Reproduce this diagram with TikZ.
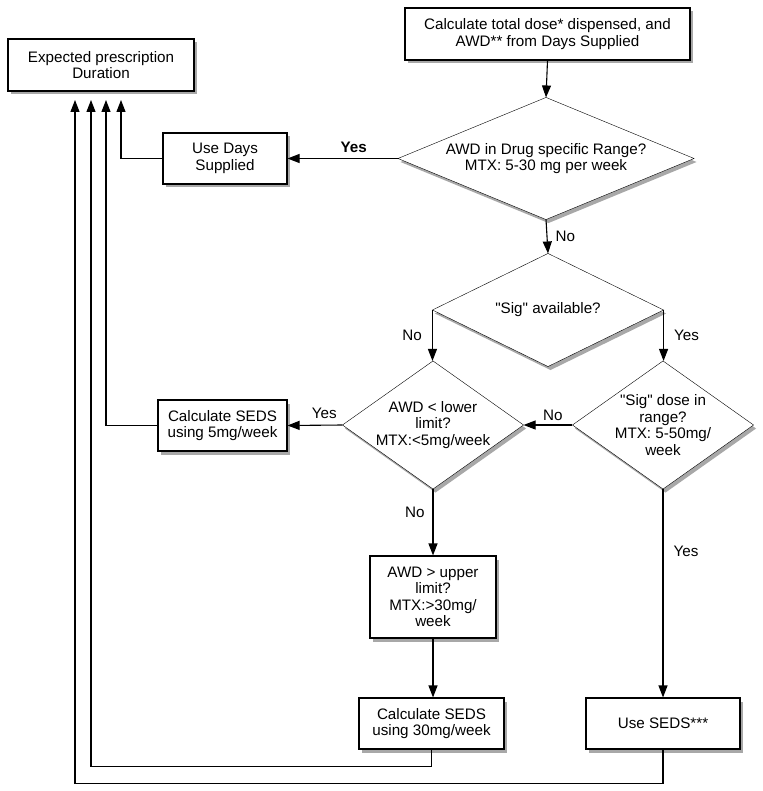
\documentclass[tikz,border=0pt]{standalone}
\usepackage{fontspec}
\setmainfont[Ligatures=TeXOff]{Liberation Sans}
\usetikzlibrary{arrows.meta,shadows,backgrounds}
\begin{document}
\begin{tikzpicture}[x=1pt,y=-1pt,
  font=\fontsize{15.2}{16.5}\selectfont,
  line width=1.1pt,
  shd/.style={drop shadow={shadow xshift=2.5pt,shadow yshift=-3.5pt,fill=black!40,opacity=0.85}},
  box/.style={draw,fill=white,shd,align=center,inner sep=0pt},
  dia/.style={align=center,inner sep=0pt},
  diashape/.style={draw,fill=white,shd,line join=miter},
  arr/.style={-{Triangle[length=12pt,width=9pt]}},
  lab/.style={inner sep=0pt}
]
\useasboundingbox (0,0) rectangle (762,791);
% boxes
\node[box,minimum width=186pt,minimum height=52pt] (expd) at (101,65) {Expected prescription\\Duration};
\node[box,minimum width=285pt,minimum height=52pt] (top) at (547.5,34) {Calculate total dose* dispensed, and\\AWD** from Days Supplied};
\node[box,minimum width=124pt,minimum height=51pt] (uds) at (225,158.5) {Use Days\\Supplied};
\node[box,minimum width=129pt,minimum height=51pt] (seds5) at (222.5,425.5) {Calculate SEDS\\using 5mg/week};
\node[box,minimum width=126pt,minimum height=82pt] (awdup) at (433,597) {AWD {>} upper\\limit?\\MTX:{>}30mg/\\week};
\node[box,minimum width=145pt,minimum height=51pt] (seds30) at (431.5,723.5) {Calculate SEDS\\using 30mg/week};
\node[box,minimum width=154pt,minimum height=51pt] (useseds) at (663,723.5) {Use SEDS***};
% decisions (rectangular frames whose anchors carry the diamond)
\node[dia,minimum width=295pt,minimum height=121pt] (d1) at (546,158.5) {AWD in Drug specific Range?\\MTX: 5-30 mg per week};
\node[dia,minimum width=230pt,minimum height=112pt] (d2) at (548,310) {"Sig" available?};
\node[dia,minimum width=180pt,minimum height=127pt] (d3) at (433,425) {AWD {<} lower\\limit?\\MTX:{<}5mg/week};
\node[dia,minimum width=180pt,minimum height=127pt] (d4) at (663,425) {"Sig" dose in\\range?\\MTX: 5-50mg/\\week};
\begin{scope}[on background layer]
  \foreach \d in {d1,d2,d3,d4}
    \draw[diashape] (\d.north) -- (\d.east) -- (\d.south) -- (\d.west) -- cycle;
\end{scope}
% arrow end points below the target box
\coordinate (a1) at (75,100);
\coordinate (a2) at (91,100);
\coordinate (a3) at (106,100);
\coordinate (a4) at (121,100);
% connectors
\draw[arr] (top.south) -- (d1.north);
\draw[arr] (d1.west) -- node[lab,above=5pt,font=\fontsize{15.2}{16.5}\selectfont\bfseries,pos=0.4]{Yes} (uds.east);
\draw[arr] (d1.south) -- node[lab,right=8pt]{No} (d2.north);
\draw[arr] (d2.west) -- node[lab,left=10pt]{No} (d2.west |- d3.north);
\draw[arr] (d2.east) -- node[lab,right=10pt]{Yes} (d2.east |- d4.north);
\draw[arr] (d4.west) -- node[lab,above=4pt,pos=0.4]{No} (d3.east);
\draw[arr] (d3.west) -- node[lab,above=6pt,pos=0.33]{Yes} (seds5.east);
\draw[arr] (d3.south) -- node[lab,left=8pt,pos=0.35]{No} (d3.south |- awdup.north);
\draw[arr] (awdup.south) -- (awdup.south |- seds30.north);
\draw[arr] (d4.south) -- node[lab,right=10pt,pos=0.3]{Yes} (useseds.north);
\draw[arr] (uds.west) -| (a4);
\draw[arr] (seds5.west) -| (a3);
\draw[arr] (seds30.south) -- ++(0,17) -| (a2);
\draw[arr] (useseds.south) -- ++(0,34) -| (a1);
\end{tikzpicture}
\end{document}
